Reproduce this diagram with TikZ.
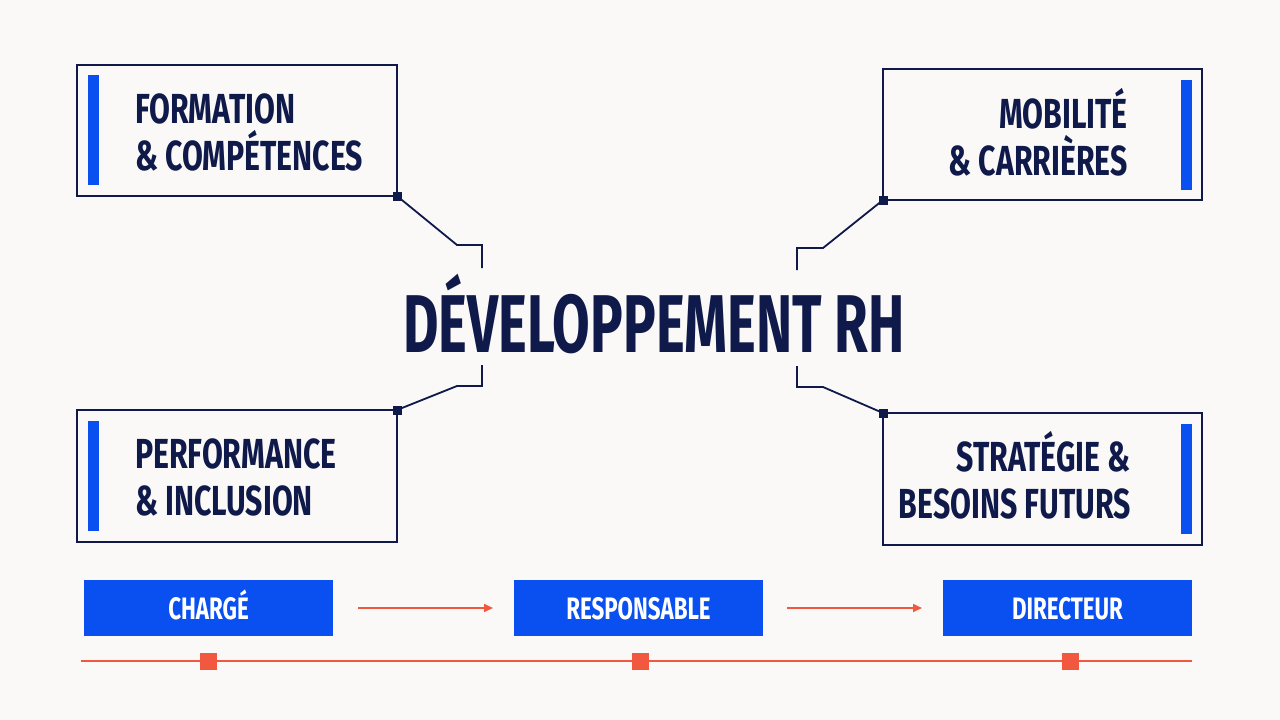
\documentclass[tikz,border=0pt]{standalone}
\usepackage{fontspec}
\newfontfamily\cond{Fira Sans}[FakeStretch=0.72,UprightFont=* Bold]
\newfontfamily\condtitle{Fira Sans}[FakeStretch=0.665,UprightFont=* Bold]
\usetikzlibrary{arrows.meta}
\definecolor{bg}{HTML}{FAF9F7}
\definecolor{navy}{HTML}{0F1A4A}
\definecolor{vivid}{HTML}{0A50F0}
\definecolor{coral}{HTML}{F2583F}
\tikzset{
  card/.style={draw=navy,line width=1.8pt,fill=bg,inner sep=0pt},
  bar/.style={fill=vivid,draw=none,minimum width=11pt,inner sep=0pt},
  dot/.style={fill=navy,draw=none,minimum size=9pt,inner sep=0pt},
  link/.style={draw=navy,line width=1.8pt},
  cardtext/.style={text=navy,font=\cond\fontsize{42}{47}\selectfont,inner sep=0pt},
  rolebox/.style={fill=vivid,draw=none,minimum width=249pt,minimum height=56pt,inner sep=0pt,text height=22pt,text depth=0pt,text=white,font=\cond\fontsize{31}{31}\selectfont},
  flow/.style={draw=coral,line width=1.6pt,-{Triangle[length=9pt,width=8pt]}},
  tick/.style={fill=coral,draw=none,minimum size=17pt,inner sep=0pt},
}
\begin{document}
\begin{tikzpicture}[x=1pt,y=-1pt]
\fill[bg] (0,0) rectangle (1280,720);
\useasboundingbox (0,0) rectangle (1280,720);

% cards
\draw[card] (77,65) rectangle (397,196);
\draw[card] (883,69) rectangle (1202,200);
\draw[card] (77,410) rectangle (397,542);
\draw[card] (883,413) rectangle (1202,545);

\node[bar,minimum height=110pt,anchor=north west] (b1) at (88,75) {};
\node[bar,minimum height=110pt,anchor=north west] (b2) at (1181,80) {};
\node[bar,minimum height=110pt,anchor=north west] (b3) at (88,421) {};
\node[bar,minimum height=110pt,anchor=north west] (b4) at (1181,424) {};

\node[cardtext,anchor=base west,align=left] (t1) at (135,170) {FORMATION\\\& COMPÉTENCES};
\node[cardtext,anchor=base east,align=right] (t2) at (1128,175) {MOBILITÉ\\\& CARRIÈRES};
\node[cardtext,anchor=base west,align=left] (t3) at (135,515) {PERFORMANCE\\\& INCLUSION};
\node[cardtext,anchor=base east,align=right] (t4) at (1131,518) {STRATÉGIE \&\\BESOINS FUTURS};

% title
\node[text=navy,font=\condtitle\fontsize{82}{82}\selectfont,inner sep=0pt,anchor=base] (title) at (654,352) {DÉVELOPPEMENT RH};

% connectors
\node[dot] (d1) at (397,196) {};
\node[dot] (d2) at (883,200) {};
\node[dot] (d3) at (397,410) {};
\node[dot] (d4) at (883,413) {};
\coordinate (e1a) at (457,245); \coordinate (e1b) at (482,245); \coordinate (e1) at (482,268);
\coordinate (e2a) at (823,248); \coordinate (e2b) at (797,248); \coordinate (e2) at (797,270);
\coordinate (e3a) at (457,386); \coordinate (e3b) at (482,386); \coordinate (e3) at (482,365);
\coordinate (e4a) at (823,387); \coordinate (e4b) at (797,387); \coordinate (e4) at (797,366);
\draw[link] (d1.center) -- (e1a) -- (e1b) -- (e1);
\draw[link] (d2.center) -- (e2a) -- (e2b) -- (e2);
\draw[link] (d3.center) -- (e3a) -- (e3b) -- (e3);
\draw[link] (d4.center) -- (e4a) -- (e4b) -- (e4);
\node[dot] at (d1) {};
\node[dot] at (d2) {};
\node[dot] at (d3) {};
\node[dot] at (d4) {};

% career path
\node[rolebox] (r1) at (208.5,608) {CHARGÉ};
\node[rolebox] (r2) at (638.5,608) {RESPONSABLE};
\node[rolebox] (r3) at (1067.5,608) {DIRECTEUR};
\coordinate (a1s) at (358,608); \coordinate (a1e) at (493,608);
\coordinate (a2s) at (787,608); \coordinate (a2e) at (922,608);
\draw[flow] (a1s) -- (a1e);
\draw[flow] (a2s) -- (a2e);

% timeline
\coordinate (l0) at (81,661); \coordinate (l1) at (1192,661);
\draw[coral,line width=1.6pt] (l0) -- (l1);
\node[tick] (k1) at (208,661) {};
\node[tick] (k2) at (640,661) {};
\node[tick] (k3) at (1070,661) {};
\end{tikzpicture}
\end{document}
